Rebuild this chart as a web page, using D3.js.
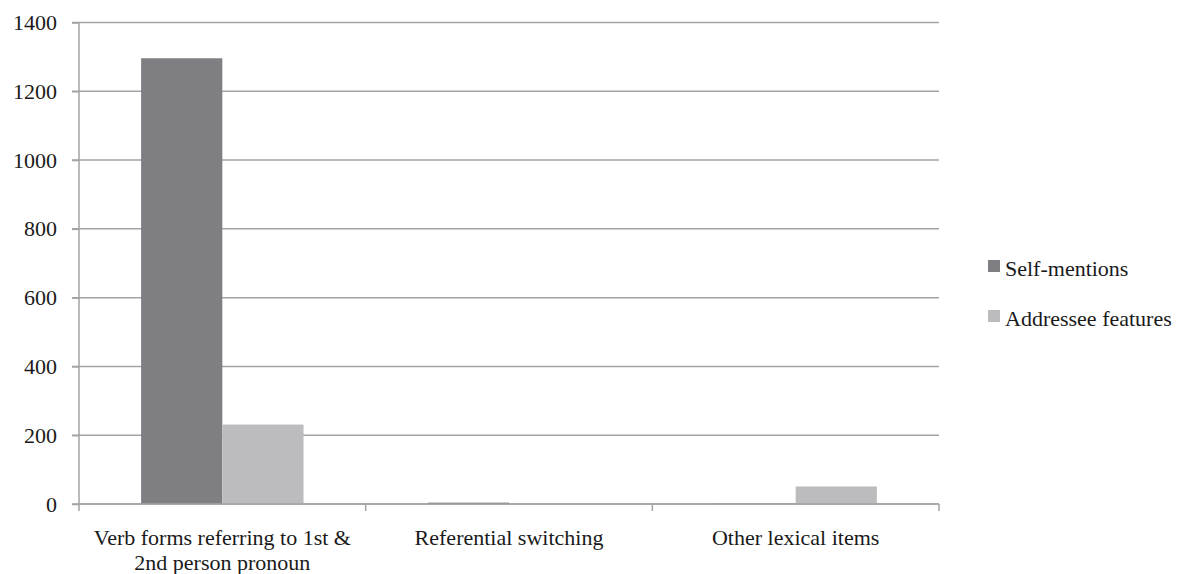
<!DOCTYPE html>
<html>
<head>
<meta charset="utf-8">
<script src="https://cdn.jsdelivr.net/npm/d3@7"></script>
<style>
  body { margin: 0; background: #fff; }
</style>
</head>
<body>
<div id="chart"></div>
<script>
// data
const categories = [
    ["Verb forms referring to 1st &", "2nd person pronoun"],
    ["Referential switching"],
    ["Other lexical items"]
];
const seriesNames = ["Self-mentions", "Addressee features"];
const selfMentions = [1296, 4, 1];
const addresseeFeatures = [231, 2, 51];
const yTicks = [0, 200, 400, 600, 800, 1000, 1200, 1400];

const colors = ["#7f7f83", "#bcbcbe"];
const FONT = "'Liberation Serif', 'Times New Roman', serif";

const margin = {top: 22.5, left: 79, right: 249, bottom: 70};
const W = 1188, H = 574;
const width = W - margin.left - margin.right,
    height = H - margin.top - margin.bottom;

const svg = d3.select("#chart")
    .append("svg")
    .attr("width", W)
    .attr("height", H)
    .style("font-family", FONT);

const gr = svg.append("g")
    .attr("transform", "translate(" + margin.left + "," + margin.top + ")");

const keys = categories.map((c, i) => i);
const xScale = d3.scaleBand()
    .domain(keys)
    .range([0, width]);

const xInner = d3.scaleBand()
    .domain(seriesNames)
    .range([0, xScale.bandwidth()])
    .paddingOuter(0.765);

const yScale = d3.scaleLinear()
    .domain([0, 1400])
    .range([height, 0]);

// grid lines
gr.append("g")
    .selectAll("line")
    .data(yTicks)
    .join("line")
    .attr("x1", -7)
    .attr("x2", width)
    .attr("y1", d => yScale(d))
    .attr("y2", d => yScale(d))
    .attr("stroke", "#a3a3a5")
    .attr("stroke-width", 1.5);

// y axis
const yAxis = d3.axisLeft(yScale)
    .tickValues(yTicks)
    .tickFormat(d3.format("d"))
    .tickSize(7)
    .tickPadding(15);
const yAxGr = gr.append("g").call(yAxis);
yAxGr.attr("font-family", null).attr("font-size", null);
yAxGr.select(".domain").remove();
yAxGr.selectAll("line").attr("stroke", "#a3a3a5").attr("stroke-width", 1.5);
yAxGr.selectAll("text")
    .style("font-family", FONT)
    .style("font-size", "22px")
    .attr("fill", "#1a1a1a");

gr.append("line")
    .attr("x1", 0).attr("x2", 0)
    .attr("y1", 0).attr("y2", height)
    .attr("stroke", "#a3a3a5")
    .attr("stroke-width", 1.5);

// bars
const rows = keys.map(i => ({i, values: [selfMentions[i], addresseeFeatures[i]]}));
gr.append("g")
    .selectAll("g")
    .data(rows)
    .join("g")
    .attr("transform", d => "translate(" + xScale(d.i) + ",0)")
    .selectAll("rect")
    .data(d => d.values.map((v, k) => ({key: seriesNames[k], value: v, k})))
    .join("rect")
    .attr("x", d => xInner(d.key))
    .attr("width", xInner.bandwidth())
    .attr("y", d => yScale(d.value))
    .attr("height", d => height - yScale(d.value))
    .attr("fill", d => colors[d.k]);

// x axis
const xAxGr = gr.append("g")
    .attr("transform", "translate(0," + height + ")");
xAxGr.append("line")
    .attr("x1", 0).attr("x2", width)
    .attr("stroke", "#a3a3a5")
    .attr("stroke-width", 1.5);
xAxGr.selectAll(".tk")
    .data(d3.range(categories.length + 1))
    .join("line")
    .attr("class", "tk")
    .attr("x1", d => d < categories.length ? xScale(d) : width)
    .attr("x2", d => d < categories.length ? xScale(d) : width)
    .attr("y1", 0).attr("y2", 7)
    .attr("stroke", "#a3a3a5")
    .attr("stroke-width", 1.5);

xAxGr.selectAll(".lbl")
    .data(rows)
    .join("text")
    .attr("class", "lbl")
    .attr("x", d => xScale(d.i) + xScale.bandwidth() / 2)
    .attr("y", 33)
    .attr("text-anchor", "middle")
    .attr("fill", "#1a1a1a")
    .style("font-family", FONT)
    .style("font-size", "22px")
    .selectAll("tspan")
    .data(d => categories[d.i])
    .join("tspan")
    .attr("x", function() { return d3.select(this.parentNode).attr("x"); })
    .attr("dy", (d, j) => j === 0 ? "0.35em" : 25)
    .text(d => d);

// legend
const legend = svg.append("g")
    .attr("transform", "translate(988,260)");
const items = legend.selectAll("g")
    .data(seriesNames)
    .join("g")
    .attr("transform", (d, i) => "translate(0," + i * 50 + ")");
items.append("rect")
    .attr("width", 12)
    .attr("height", 12)
    .attr("fill", (d, i) => colors[i]);
items.append("text")
    .attr("x", 17)
    .attr("y", 8)
    .attr("dy", "0.35em")
    .attr("fill", "#1a1a1a")
    .style("font-family", FONT)
    .style("font-size", "22px")
    .text(d => d);
</script>
</body>
</html>
